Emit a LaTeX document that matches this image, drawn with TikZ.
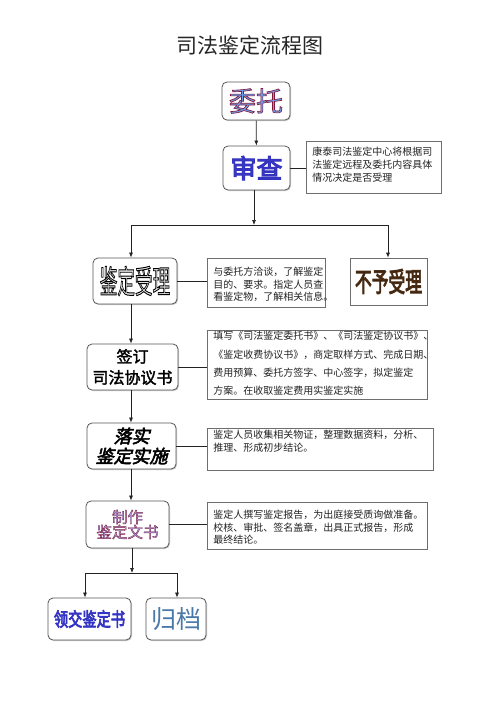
\documentclass[tikz,border=0pt]{standalone}
\usepackage{fontspec}
\setmainfont{Noto Sans CJK SC}
\newfontfamily\cjkB[FakeBold=2]{Noto Sans CJK SC}
\newfontfamily\cjkH[FakeBold=4]{Noto Sans CJK SC}
\newfontfamily\cjkS[FakeBold=2.4]{Noto Sans CJK SC}
\newfontfamily\cjkT[FakeBold=3]{Noto Sans CJK SC}
\newfontfamily\cjkI[FakeBold=3,FakeSlant=0.25]{Noto Sans CJK SC}
\usetikzlibrary{arrows.meta,shadows}
\definecolor{boxline}{HTML}{555555}
\definecolor{lineclr}{HTML}{222222}
\definecolor{wtblue}{HTML}{6F9FE6}
\definecolor{scblue}{HTML}{3C3CC8}
\definecolor{bybrown}{HTML}{3A2212}
\definecolor{zzlav}{HTML}{A4A4EE}
\definecolor{ljblue}{HTML}{3434C4}
\definecolor{gdblue}{HTML}{4A78A8}
\definecolor{notetxt}{HTML}{222222}
% text filled with #1 and stroked (outlined) with rgb #2 (needs a FakeBold font)
\newcommand\strk[3]{{\color{#1}\special{pdf:code #2 RG}#3}}
% note box content: width, height, top skip, baselineskip, text
\newcommand\notebox[5]{\parbox[c][#2][t]{#1}{\vspace*{#3}\fontsize{10}{#4}\selectfont\color{notetxt}\raggedright\leftskip=6pt\relax #5}}
\tikzset{
  rbox/.style={draw=boxline, line width=0.8pt, rounded corners=5pt, fill=white, inner sep=0pt,
    drop shadow={shadow xshift=1pt, shadow yshift=-1pt, fill=black!40, opacity=0.5}},
  sqbox/.style={draw=boxline!85, line width=0.7pt, fill=white, inner sep=0pt,
    drop shadow={shadow xshift=1pt, shadow yshift=-1pt, fill=black!40, opacity=0.5}},
  notenode/.style={sqbox, anchor=north west},
  conn/.style={draw=lineclr, line width=0.7pt},
  arr/.style={conn, -{Latex[length=5pt,width=4pt]}},
}
\begin{document}
\begin{tikzpicture}[x=1pt,y=-1pt]
\fill[white] (0,0) rectangle (500,707);
\useasboundingbox (0,0) rectangle (500,707);

\node (title) at (250,45) {\fontsize{21}{21}\selectfont\color{black!85}司法鉴定流程图};

\node[rbox, minimum width=68pt, minimum height=38pt] (weituo) at (256,101)
  {\fontsize{27}{27}\cjkS\strk{wtblue}{0.5 0.1 0.25}{委托}};
\node[rbox, minimum width=67pt, minimum height=44pt] (shencha) at (256.5,168)
  {\fontsize{26}{26}\cjkH\strk{scblue}{0.2 0.2 0.75}{审查}};
\node[notenode] (note1) at (306,141)
  {\notebox{135pt}{52pt}{6pt}{13pt}{康泰司法鉴定中心将根据司\\法鉴定远程及委托内容具体\\情况决定是否受理}};

\node[rbox, minimum width=84pt, minimum height=46pt] (shouli) at (135,281)
  {\scalebox{0.55}[1]{\fontsize{32}{32}\cjkT\strk{white!90!black}{0 0 0}{鉴定受理}}};
\node[notenode] (note2) at (207,258)
  {\notebox{118pt}{49pt}{9pt}{12.5pt}{与委托方洽谈，了解鉴定\\目的、要求。指定人员查\\看鉴定物，了解相关信息。}};
\node[sqbox, minimum width=77pt, minimum height=47pt] (buyu) at (388.5,281.5)
  {\scalebox{0.62}[1]{\fontsize{27}{27}\cjkH\strk{bybrown}{0.3 0.18 0.08}{不予受理}}};

\node[rbox, minimum width=91pt, minimum height=46pt, align=center, font=\fontsize{16}{21}\cjkB] (qianding) at (132.5,367)
  {签订\\司法协议书};
\node[notenode] (note3) at (207,330)
  {\notebox{220pt}{69pt}{1pt}{18.3pt}{填写《司法鉴定委托书》、《司法鉴定协议书》、\\《鉴定收费协议书》，商定取样方式、完成日期、\\费用预算、委托方签字、中心签字，拟定鉴定\\方案。在收取鉴定费用实鉴定实施}};

\node[rbox, minimum width=89pt, minimum height=46pt, align=center, font=\fontsize{18}{20}\cjkI] (luoshi) at (131.5,446)
  {落实\\鉴定实施};
\node[notenode] (note4) at (207,428)
  {\notebox{226pt}{42pt}{2pt}{13pt}{鉴定人员收集相关物证，整理数据资料，分析、\\推理、形成初步结论。}};

\node[rbox, minimum width=83pt, minimum height=47pt, align=center, font=\fontsize{15.5}{15}\cjkS] (zhizuo) at (127.5,524.5)
  {\strk{zzlav}{0.5 0.12 0.25}{制作}\\\strk{zzlav}{0.5 0.12 0.25}{鉴定文书}};
\node[notenode] (note5) at (207,502)
  {\notebox{220pt}{47pt}{8pt}{12.5pt}{鉴定人撰写鉴定报告，为出庭接受质询做准备。\\校核、审批、签名盖章，出具正式报告，形成\\最终结论。}};

\node[rbox, minimum width=83pt, minimum height=42pt] (lingjiao) at (89.5,619)
  {\scalebox{0.75}[1]{\fontsize{19}{19}\cjkH\textcolor{ljblue}{领交鉴定书}}};
\node[rbox, minimum width=60pt, minimum height=42pt] (guidang) at (176,619)
  {\fontsize{25}{25}\selectfont\textcolor{gdblue}{归档}};

% connectors
\draw[arr] (weituo) -- (shencha);
\draw[conn] (shencha.east) -- (shencha.east -| note1.west);
\coordinate (s1) at (254,225);
\coordinate (aL) at (131,225);
\coordinate (aR) at (388,225);
\draw[arr] (s1 |- shencha.south) -- (s1);
\draw[conn] (aL) -- (aR);
\draw[arr] (aL) -- (aL |- shouli.north);
\draw[arr] (aR) -- (aR |- buyu.north);
\draw[conn] (shouli.east) -- (shouli.east -| note2.west);
\coordinate (col) at (131,0);
\draw[arr] (col |- shouli.south) -- (col |- qianding.north);
\draw[conn] (qianding.east) -- (qianding.east -| note3.west);
\draw[arr] (col |- qianding.south) -- (col |- luoshi.north);
\draw[conn] (luoshi.east) -- (luoshi.east -| note4.west);
\draw[arr] (col |- luoshi.south) -- (col |- zhizuo.north);
\draw[conn] (zhizuo.east) -- (zhizuo.east -| note5.west);
\coordinate (s2) at (132,573);
\coordinate (bL) at (85,573);
\coordinate (bR) at (177,573);
\draw[arr] (s2 |- zhizuo.south) -- (s2);
\draw[conn] (bL) -- (bR);
\draw[arr] (bL) -- (bL |- lingjiao.north);
\draw[arr] (bR) -- (bR |- guidang.north);
\end{tikzpicture}
\end{document}
